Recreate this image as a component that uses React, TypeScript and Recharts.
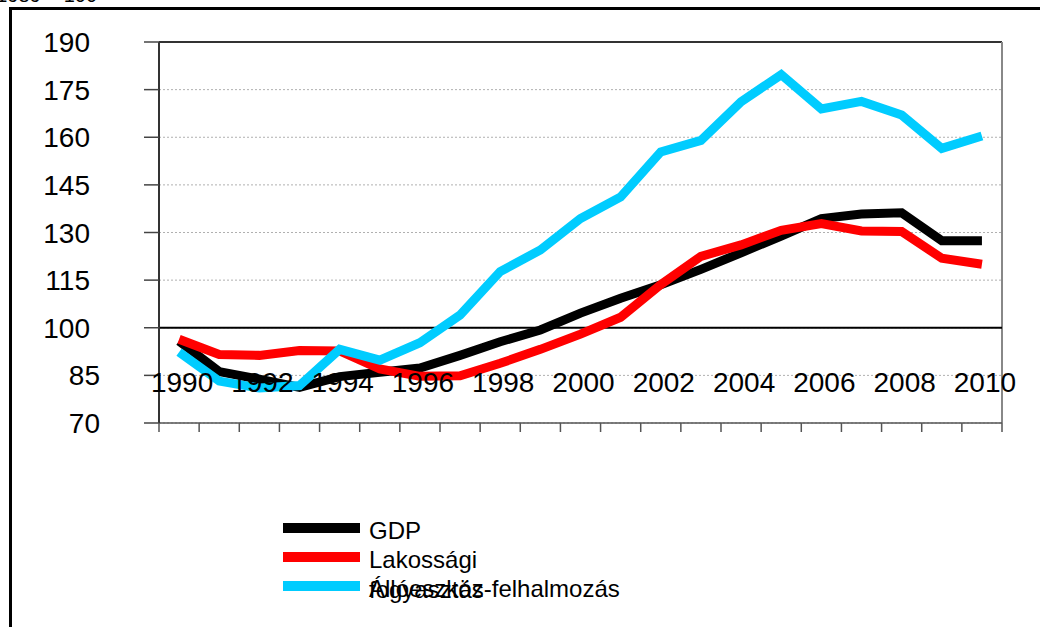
import { CartesianGrid, LabelList, Line, LineChart, ReferenceLine, XAxis, YAxis } from "recharts";

const years = [1990, 1991, 1992, 1993, 1994, 1995, 1996, 1997, 1998, 1999, 2000, 2001, 2002, 2003, 2004, 2005, 2006, 2007, 2008, 2009, 2010];
const gdp = [95.8, 86.2, 83.8, 81.2, 84.6, 86.0, 87.3, 91.3, 95.6, 99.3, 104.6, 109.3, 113.5, 118.4, 123.6, 128.9, 134.4, 135.8, 136.2, 127.4, 127.4];
const lakossagi = [96.4, 91.6, 91.3, 92.8, 92.7, 87.0, 84.7, 84.9, 88.8, 93.2, 98.0, 103.3, 113.6, 122.5, 126.1, 130.7, 132.8, 130.5, 130.3, 121.9, 120.0];
const alloeszkoz = [92.3, 83.2, 81.0, 81.8, 93.2, 89.8, 95.3, 104.0, 117.7, 124.5, 134.4, 141.2, 155.4, 159.0, 171.2, 179.7, 168.9, 171.3, 167.0, 156.5, 160.4];

const yTicks = [70, 85, 100, 115, 130, 145, 160, 175, 190];
const boundaries = [...years.map((y) => y - 0.5), 2010.5];

const series = [
  { key: "gdp", name: "GDP", color: "#000000" },
  { key: "lakossagi", name: "Lakossági fogyasztás", color: "#FF0000" },
  { key: "alloeszkoz", name: "Állóeszköz-felhalmozás", color: "#00CCFF" },
];

const data = years.map((year, i) => ({
  year,
  gdp: gdp[i],
  lakossagi: lakossagi[i],
  alloeszkoz: alloeszkoz[i],
}));

const font = "'Liberation Sans', Arial, sans-serif";
// the category labels sit at the 85 gridline, as in the original Excel chart
const labelLevel = 85;

// tick marks sit on the category boundaries
const renderXTick = (props: any) => {
  const { x, y } = props;
  return <line x1={x} x2={x} y1={y} y2={y + 9} stroke="#555" strokeWidth={1.5} />;
};

const renderYTick = (props: any) => {
  const { x, y, payload } = props;
  const shift = String(payload.value).length > 2 ? 54 : 44;
  return (
    <text x={x - shift} y={y} dy="0.36em" textAnchor="end" fontSize={28} fill="#000" fontFamily={font}>
      {payload.value}
    </text>
  );
};

const renderYearLabel = (props: any) => {
  const { x, y, value } = props;
  if (Number(value) % 2 !== 0) return null;
  return (
    <text x={x + 3} y={y + 16.5} textAnchor="middle" fontSize={28} fill="#000" fontFamily={font}>
      {value}
    </text>
  );
};

function LegendBox() {
  const rows = [528, 557, 586];
  return (
    <svg width={700} height={627} style={{ position: "absolute", left: 0, top: 0, overflow: "visible" }}>
      {series.map((s, i) => (
        <line key={s.key} x1={283} x2={360} y1={rows[i]} y2={rows[i]} stroke={s.color} strokeWidth={10} />
      ))}
      <text fontFamily={font} fontSize={24} fill="#000">
        <tspan x={369} y={539}>GDP</tspan>
        <tspan x={369} y={568}>Lakossági</tspan>
        <tspan x={369} y={598}>fogyasztás</tspan>
        <tspan x={369} y={597}>Állóeszköz-felhalmozás</tspan>
      </text>
    </svg>
  );
}

export default function App() {
  return (
    <div style={{ position: "absolute", left: 0, top: 0, width: 1040, height: 627, overflow: "hidden", background: "#fff" }}>
      <svg width={200} height={10} style={{ position: "absolute", left: 0, top: 0 }}>
        <text x={97} y={2} textAnchor="end" fontSize={20} fontFamily={font}>1989 = 100</text>
      </svg>
      <div style={{ position: "absolute", left: 9, top: 7, width: 1100, height: 700, borderLeft: "3px solid #000", borderTop: "3px solid #000" }} />
      <div style={{ position: "absolute", left: 0, top: 0 }}>
        <LineChart width={1040} height={627} data={data} margin={{ top: 42, right: 38, bottom: 174, left: 0 }}>
          <CartesianGrid vertical={false} stroke="#b0b0b0" strokeDasharray="2 2" />
          <XAxis
            dataKey="year"
            type="number"
            domain={[1989.5, 2010.5]}
            ticks={boundaries}
            interval={0}
            height={30}
            tickSize={0}
            tickMargin={0}
            tickLine={false}
            tick={renderXTick}
            axisLine={{ stroke: "#555", strokeWidth: 1.5 }}
          />
          <YAxis
            domain={[70, 190]}
            ticks={yTicks}
            interval={0}
            width={159}
            tickSize={15}
            tickMargin={0}
            tick={renderYTick}
            tickLine={{ stroke: "#444", strokeWidth: 1.5 }}
            axisLine={{ stroke: "#333", strokeWidth: 2 }}
          />
          <ReferenceLine y={190} stroke="#333" strokeWidth={2} />
          <ReferenceLine x={2010.5} stroke="#888" strokeWidth={2} />
          <ReferenceLine y={100} stroke="#000" strokeWidth={2} />
          {series.map((s) => (
            <Line
              key={s.key}
              type="linear"
              dataKey={s.key}
              name={s.name}
              stroke={s.color}
              strokeWidth={9}
              strokeLinecap="butt"
              strokeLinejoin="miter"
              dot={false}
              activeDot={false}
              isAnimationActive={false}
            />
          ))}
          <Line
            dataKey={() => labelLevel}
            stroke="none"
            dot={false}
            activeDot={false}
            legendType="none"
            isAnimationActive={false}
          >
            <LabelList dataKey="year" content={renderYearLabel} />
          </Line>
        </LineChart>
      </div>
      <LegendBox />
    </div>
  );
}
